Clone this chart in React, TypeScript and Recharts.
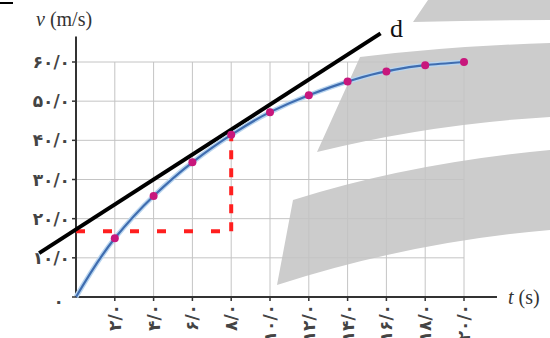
import React from 'react';
import { ComposedChart, Line, XAxis, YAxis, CartesianGrid, ReferenceLine } from 'recharts';

// velocity (m/s) against time (s)
const times = [0, 2, 4, 6, 8, 10, 12, 14, 16, 18, 20];
const velocities = [0, 15.0, 25.8, 34.4, 41.4, 47.2, 51.5, 55.0, 57.6, 59.2, 60.0];

const xTicks = [2, 4, 6, 8, 10, 12, 14, 16, 18, 20];
const xTickLabels = ['۲/۰', '۴/۰', '۶/۰', '۸/۰', '۱۰/۰', '۱۲/۰', '۱۴/۰', '۱۶/۰', '۱۸/۰', '۲۰/۰'];
const yTicks = [0, 10, 20, 30, 40, 50, 60];
const yTickLabels = ['۰', '۱۰/۰', '۲۰/۰', '۳۰/۰', '۴۰/۰', '۵۰/۰', '۶۰/۰'];

// tangent line d and the slope triangle
const tangentStart = { t: -1.9, v: 11.2 };
const tangentEnd = { t: 15.7, v: 67.3 };
const guideT = 8;
const guideV = 16.8;
const guideTopV = 41.4;

// axis arrows run past the grid
const xAxisEnd = 21.7;
const yAxisTop = 66.5;

const chartData = times.map((t, i) => ({ t, v: velocities[i] }));

const tickFont = { fontFamily: 'DejaVu Sans', fontSize: 17, fontWeight: 'bold', fill: '#444' };

const XTick = (props: any) => {
  const { x, y, payload } = props;
  const label = xTickLabels[xTicks.indexOf(payload.value)];
  return (
    <text
      x={x}
      y={y}
      transform={`rotate(-90 ${x} ${y})`}
      textAnchor="end"
      dominantBaseline="central"
      {...tickFont}
    >
      {label}
    </text>
  );
};

const YTick = (props: any) => {
  const { x, y, payload } = props;
  const label = yTickLabels[yTicks.indexOf(payload.value)];
  // the zero label sits a little lower and further left
  const isZero = payload.value === 0;
  return (
    <text
      x={isZero ? x - 6 : x}
      y={isZero ? y + 4 : y}
      textAnchor="end"
      dominantBaseline="central"
      {...tickFont}
    >
      {label}
    </text>
  );
};

const renderDot = (props: any) => {
  const { cx, cy, index } = props;
  if (index === 0) return <g key="dot-0" />;
  return <circle key={`dot-${index}`} cx={cx} cy={cy} r={4} fill="#c8177c" />;
};

const Watermark = () => (
  <svg width={550} height={338} style={{ position: 'absolute', left: 0, top: 0 }}>
    <path d="M 413 22 L 428 0 L 550 0 L 550 20 Q 480 20 413 22 Z" fill="#cccccc" />
    <path d="M 360 57 Q 450 46 550 43 L 550 117 Q 430 124 317 152 Z" fill="#cccccc" />
    <path d="M 293 200 Q 410 163 550 150 L 550 230 Q 410 242 277 285 Z" fill="#cccccc" />
    <line x1={0} y1={3} x2={13} y2={3} stroke="#000" strokeWidth={2} />
  </svg>
);

const labelStyle: React.CSSProperties = {
  position: 'absolute',
  fontFamily: 'Liberation Serif',
  color: '#333',
  whiteSpace: 'nowrap',
  lineHeight: 1,
};

export default function App() {
  return (
    <div style={{ position: 'absolute', left: 0, top: 0, width: 550, height: 338, background: '#fff', overflow: 'hidden' }}>
      <Watermark />
      <div style={{ position: 'absolute', left: 0, top: 0 }}>
        <ComposedChart
          width={550}
          height={338}
          data={chartData}
          margin={{ top: 62, right: 86, bottom: 0, left: 0 }}
        >
          <CartesianGrid stroke="#c4c4c4" strokeWidth={1} />
          <XAxis
            dataKey="t"
            type="number"
            domain={[0, 20]}
            ticks={xTicks}
            axisLine={false}
            tickLine={{ stroke: '#333', strokeWidth: 1.5 }}
            tickSize={4}
            tickMargin={3}
            height={41}
            tick={<XTick />}
            interval={0}
          />
          <YAxis
            type="number"
            domain={[0, 60]}
            ticks={yTicks}
            axisLine={false}
            tickLine={{ stroke: '#333', strokeWidth: 1.5 }}
            tickSize={4}
            tickMargin={2}
            width={76}
            interval={0}
            tick={<YTick />}
          />
          <ReferenceLine
            segment={[{ x: 0, y: 0 }, { x: xAxisEnd, y: 0 }]}
            stroke="#333"
            strokeWidth={2}
            ifOverflow="visible"
          />
          <ReferenceLine
            segment={[{ x: 0, y: 0 }, { x: 0, y: yAxisTop }]}
            stroke="#333"
            strokeWidth={2}
            ifOverflow="visible"
          />
          <ReferenceLine
            segment={[{ x: 0, y: guideV }, { x: guideT, y: guideV }]}
            stroke="#ff1f1f"
            strokeWidth={4}
            strokeDasharray="9 18"
            ifOverflow="visible"
          />
          <ReferenceLine
            segment={[{ x: guideT, y: guideV }, { x: guideT, y: guideTopV }]}
            stroke="#ff1f1f"
            strokeWidth={4}
            strokeDasharray="9 9"
            ifOverflow="visible"
          />
          <ReferenceLine
            segment={[{ x: tangentStart.t, y: tangentStart.v }, { x: tangentEnd.t, y: tangentEnd.v }]}
            stroke="#000"
            strokeWidth={4}
            ifOverflow="visible"
          />
          <Line
            type="monotoneY"
            dataKey="v"
            stroke="#b9d5ef"
            strokeWidth={5}
            dot={false}
            activeDot={false}
            isAnimationActive={false}
          />
          <Line
            type="monotoneY"
            dataKey="v"
            stroke="#3f6db0"
            strokeWidth={2.2}
            dot={renderDot}
            activeDot={false}
            isAnimationActive={false}
          />
        </ComposedChart>
      </div>
      <div style={{ ...labelStyle, left: 36, top: 9, fontSize: 20 }}>
        <i>v</i> (m/s)
      </div>
      <div style={{ ...labelStyle, left: 508, top: 287, fontSize: 20 }}>
        <i>t</i> (s)
      </div>
      <div style={{ ...labelStyle, left: 390, top: 16, fontSize: 26, color: '#111' }}>d</div>
    </div>
  );
}
